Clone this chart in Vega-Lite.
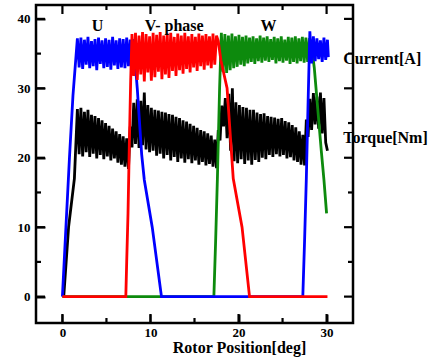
{
  "$schema": "https://vega.github.io/schema/vega-lite/v6.json",
  "width": 317,
  "height": 318,
  "autosize": {"type": "none"},
  "padding": {"left": 36, "top": 5, "right": 84, "bottom": 35},
  "background": "white",
  "config": {
    "view": {"stroke": "black", "strokeWidth": 2.5},
    "font": "Liberation Serif",
    "axis": {
      "domain": false,
      "grid": false,
      "tickColor": "black",
      "tickWidth": 2,
      "labelFont": "Liberation Serif",
      "labelFontWeight": "bold",
      "labelFontSize": 13,
      "labelColor": "black",
      "titleFont": "Liberation Serif",
      "titleFontWeight": "bold",
      "titleFontSize": 16,
      "titleColor": "black"
    }
  },
  "datasets": {
    "d": [
      {"s":"k","x":0.15,"y":0},{"s":"k","x":0.7,"y":10},{"s":"k","x":1.36,"y":17},{"s":"k","x":1.7,"y":27.0},
      {"s":"k","x":1.9,"y":20.5},{"s":"k","x":2.1,"y":27.2},{"s":"k","x":2.3,"y":20.2},{"s":"k","x":2.5,"y":26.6},
      {"s":"k","x":2.7,"y":20.8},{"s":"k","x":2.9,"y":26.9},{"s":"k","x":3.1,"y":20.1},{"s":"k","x":3.3,"y":26.2},
      {"s":"k","x":3.5,"y":20.6},{"s":"k","x":3.7,"y":26.0},{"s":"k","x":3.9,"y":19.9},{"s":"k","x":4.1,"y":25.7},
      {"s":"k","x":4.3,"y":20.4},{"s":"k","x":4.5,"y":25.4},{"s":"k","x":4.7,"y":19.8},{"s":"k","x":4.9,"y":25.0},
      {"s":"k","x":5.1,"y":20.2},{"s":"k","x":5.3,"y":24.6},{"s":"k","x":5.5,"y":19.6},{"s":"k","x":5.7,"y":24.2},
      {"s":"k","x":5.9,"y":19.9},{"s":"k","x":6.1,"y":23.8},{"s":"k","x":6.3,"y":19.3},{"s":"k","x":6.5,"y":23.4},
      {"s":"k","x":6.7,"y":19.0},{"s":"k","x":6.9,"y":23.1},{"s":"k","x":7.1,"y":18.7},{"s":"k","x":7.3,"y":22.8},
      {"s":"k","x":7.5,"y":18.4},{"s":"k","x":7.7,"y":24.5},{"s":"k","x":7.9,"y":21.5},{"s":"k","x":8.1,"y":27.9},
      {"s":"k","x":8.3,"y":22.0},{"s":"k","x":8.5,"y":28.4},{"s":"k","x":8.7,"y":21.4},{"s":"k","x":8.9,"y":28.2},
      {"s":"k","x":9.1,"y":21.8},{"s":"k","x":9.3,"y":29.4},{"s":"k","x":9.5,"y":21.2},{"s":"k","x":9.7,"y":27.6},
      {"s":"k","x":9.9,"y":20.8},{"s":"k","x":10.1,"y":27.2},{"s":"k","x":10.3,"y":21.0},{"s":"k","x":10.5,"y":26.9},
      {"s":"k","x":10.7,"y":20.3},{"s":"k","x":10.9,"y":26.8},{"s":"k","x":11.1,"y":20.6},{"s":"k","x":11.3,"y":26.6},
      {"s":"k","x":11.5,"y":19.9},{"s":"k","x":11.7,"y":26.5},{"s":"k","x":11.9,"y":20.4},{"s":"k","x":12.1,"y":26.3},
      {"s":"k","x":12.3,"y":19.6},{"s":"k","x":12.5,"y":26.2},{"s":"k","x":12.7,"y":20.1},{"s":"k","x":12.9,"y":25.9},
      {"s":"k","x":13.1,"y":19.4},{"s":"k","x":13.3,"y":25.7},{"s":"k","x":13.5,"y":19.9},{"s":"k","x":13.7,"y":25.4},
      {"s":"k","x":13.9,"y":19.3},{"s":"k","x":14.1,"y":25.2},{"s":"k","x":14.3,"y":19.8},{"s":"k","x":14.5,"y":24.9},
      {"s":"k","x":14.7,"y":19.2},{"s":"k","x":14.9,"y":24.6},{"s":"k","x":15.1,"y":19.6},{"s":"k","x":15.3,"y":24.3},
      {"s":"k","x":15.5,"y":19.0},{"s":"k","x":15.7,"y":24.0},{"s":"k","x":15.9,"y":19.4},{"s":"k","x":16.1,"y":23.8},
      {"s":"k","x":16.3,"y":18.9},{"s":"k","x":16.5,"y":23.5},{"s":"k","x":16.7,"y":19.1},{"s":"k","x":16.9,"y":23.2},
      {"s":"k","x":17.1,"y":18.7},{"s":"k","x":17.3,"y":22.6},{"s":"k","x":17.5,"y":18.5},{"s":"k","x":17.7,"y":24.0},
      {"s":"k","x":17.9,"y":22.5},{"s":"k","x":18.1,"y":27.5},{"s":"k","x":18.3,"y":24.5},{"s":"k","x":18.5,"y":28.6},
      {"s":"k","x":18.7,"y":22.8},{"s":"k","x":18.9,"y":29.2},{"s":"k","x":19.1,"y":21.0},{"s":"k","x":19.3,"y":30.0},
      {"s":"k","x":19.5,"y":19.5},{"s":"k","x":19.7,"y":28.0},{"s":"k","x":19.9,"y":19.2},{"s":"k","x":20.1,"y":27.6},
      {"s":"k","x":20.3,"y":19.8},{"s":"k","x":20.5,"y":27.3},{"s":"k","x":20.7,"y":19.1},{"s":"k","x":20.9,"y":27.2},
      {"s":"k","x":21.1,"y":19.6},{"s":"k","x":21.3,"y":26.9},{"s":"k","x":21.5,"y":19.0},{"s":"k","x":21.7,"y":26.9},
      {"s":"k","x":21.9,"y":19.7},{"s":"k","x":22.1,"y":26.5},{"s":"k","x":22.3,"y":19.4},{"s":"k","x":22.5,"y":26.3},
      {"s":"k","x":22.7,"y":20.0},{"s":"k","x":22.9,"y":26.4},{"s":"k","x":23.1,"y":19.8},{"s":"k","x":23.3,"y":26.0},
      {"s":"k","x":23.5,"y":20.4},{"s":"k","x":23.7,"y":25.9},{"s":"k","x":23.9,"y":20.1},{"s":"k","x":24.1,"y":25.8},
      {"s":"k","x":24.3,"y":20.5},{"s":"k","x":24.5,"y":25.6},{"s":"k","x":24.7,"y":20.2},{"s":"k","x":24.9,"y":25.7},
      {"s":"k","x":25.1,"y":20.4},{"s":"k","x":25.3,"y":25.3},{"s":"k","x":25.5,"y":19.9},{"s":"k","x":25.7,"y":25.1},
      {"s":"k","x":25.9,"y":20.1},{"s":"k","x":26.1,"y":24.7},{"s":"k","x":26.3,"y":19.6},{"s":"k","x":26.5,"y":24.4},
      {"s":"k","x":26.7,"y":19.4},{"s":"k","x":26.9,"y":23.8},{"s":"k","x":27.1,"y":19.0},{"s":"k","x":27.3,"y":23.3},
      {"s":"k","x":27.5,"y":18.9},{"s":"k","x":27.7,"y":25.5},{"s":"k","x":27.9,"y":23.0},{"s":"k","x":28.1,"y":28.5},
      {"s":"k","x":28.3,"y":24.0},{"s":"k","x":28.5,"y":29.3},{"s":"k","x":28.7,"y":24.8},{"s":"k","x":28.9,"y":28.8},
      {"s":"k","x":29.1,"y":24.2},{"s":"k","x":29.3,"y":29.4},{"s":"k","x":29.5,"y":23.5},{"s":"k","x":29.7,"y":28.6},
      {"s":"k","x":29.9,"y":22.2},{"s":"k","x":30.1,"y":21.0},

      {"s":"g","x":0,"y":0},{"s":"g","x":17.2,"y":0},{"s":"g","x":17.4,"y":8},{"s":"g","x":17.6,"y":17},
      {"s":"g","x":17.85,"y":30},{"s":"g","x":18.05,"y":38.0},
      {"s":"g","x":18.25,"y":32.4},{"s":"g","x":18.45,"y":37.8},{"s":"g","x":18.65,"y":32.2},{"s":"g","x":18.85,"y":37.6},
      {"s":"g","x":19.05,"y":32.6},{"s":"g","x":19.25,"y":37.9},{"s":"g","x":19.45,"y":32.9},{"s":"g","x":19.65,"y":37.5},
      {"s":"g","x":19.85,"y":33.1},{"s":"g","x":20.05,"y":37.7},{"s":"g","x":20.25,"y":33.4},{"s":"g","x":20.45,"y":37.4},
      {"s":"g","x":20.65,"y":33.2},{"s":"g","x":20.85,"y":37.6},{"s":"g","x":21.05,"y":33.6},{"s":"g","x":21.25,"y":37.3},
      {"s":"g","x":21.45,"y":33.8},{"s":"g","x":21.65,"y":37.5},{"s":"g","x":21.85,"y":33.5},{"s":"g","x":22.05,"y":37.2},
      {"s":"g","x":22.25,"y":33.9},{"s":"g","x":22.45,"y":37.6},{"s":"g","x":22.65,"y":33.7},{"s":"g","x":22.85,"y":37.3},
      {"s":"g","x":23.05,"y":34.0},{"s":"g","x":23.25,"y":37.5},{"s":"g","x":23.45,"y":33.8},{"s":"g","x":23.65,"y":37.1},
      {"s":"g","x":23.85,"y":34.1},{"s":"g","x":24.05,"y":37.4},{"s":"g","x":24.25,"y":33.6},{"s":"g","x":24.45,"y":37.2},
      {"s":"g","x":24.65,"y":33.9},{"s":"g","x":24.85,"y":37.5},{"s":"g","x":25.05,"y":33.7},{"s":"g","x":25.25,"y":37.0},
      {"s":"g","x":25.45,"y":34.0},{"s":"g","x":25.65,"y":37.4},{"s":"g","x":25.85,"y":33.5},{"s":"g","x":26.05,"y":37.3},
      {"s":"g","x":26.25,"y":33.8},{"s":"g","x":26.45,"y":37.5},{"s":"g","x":26.65,"y":33.6},{"s":"g","x":26.85,"y":37.2},
      {"s":"g","x":27.05,"y":33.9},{"s":"g","x":27.25,"y":37.4},{"s":"g","x":27.45,"y":33.7},{"s":"g","x":27.65,"y":37.3},
      {"s":"g","x":27.85,"y":33.8},{"s":"g","x":28.05,"y":37.2},{"s":"g","x":28.25,"y":36.5},
      {"s":"g","x":28.6,"y":33},{"s":"g","x":29.0,"y":27},{"s":"g","x":29.4,"y":21},{"s":"g","x":29.7,"y":16.8},{"s":"g","x":30.0,"y":12},

      {"s":"b","x":0,"y":0},{"s":"b","x":0.4,"y":10},{"s":"b","x":0.8,"y":20},{"s":"b","x":1.2,"y":29},{"s":"b","x":1.7,"y":37.2},
      {"s":"b","x":1.9,"y":33.0},{"s":"b","x":2.1,"y":37.3},{"s":"b","x":2.3,"y":32.8},{"s":"b","x":2.5,"y":37.0},
      {"s":"b","x":2.7,"y":33.4},{"s":"b","x":2.9,"y":37.4},{"s":"b","x":3.1,"y":32.9},{"s":"b","x":3.3,"y":36.8},
      {"s":"b","x":3.5,"y":33.2},{"s":"b","x":3.7,"y":37.1},{"s":"b","x":3.9,"y":32.6},{"s":"b","x":4.1,"y":37.3},
      {"s":"b","x":4.3,"y":33.5},{"s":"b","x":4.5,"y":36.9},{"s":"b","x":4.7,"y":32.9},{"s":"b","x":4.9,"y":37.2},
      {"s":"b","x":5.1,"y":33.1},{"s":"b","x":5.3,"y":37.0},{"s":"b","x":5.5,"y":32.7},{"s":"b","x":5.7,"y":37.4},
      {"s":"b","x":5.9,"y":33.3},{"s":"b","x":6.1,"y":36.9},{"s":"b","x":6.3,"y":32.8},{"s":"b","x":6.5,"y":37.2},
      {"s":"b","x":6.7,"y":33.0},{"s":"b","x":6.9,"y":37.1},{"s":"b","x":7.1,"y":32.9},{"s":"b","x":7.3,"y":37.3},
      {"s":"b","x":7.5,"y":33.2},{"s":"b","x":7.7,"y":37.0},{"s":"b","x":7.9,"y":33.4},{"s":"b","x":8.05,"y":37.1},
      {"s":"b","x":8.5,"y":30},{"s":"b","x":9.0,"y":20.5},{"s":"b","x":9.3,"y":16.8},{"s":"b","x":10.2,"y":10},{"s":"b","x":11.25,"y":0},
      {"s":"b","x":27.3,"y":0},{"s":"b","x":27.5,"y":8},{"s":"b","x":27.7,"y":17},{"s":"b","x":27.9,"y":28},{"s":"b","x":28.1,"y":38.2},
      {"s":"b","x":28.3,"y":33.6},{"s":"b","x":28.5,"y":37.5},{"s":"b","x":28.7,"y":33.9},{"s":"b","x":28.9,"y":37.2},
      {"s":"b","x":29.1,"y":34.2},{"s":"b","x":29.3,"y":36.9},{"s":"b","x":29.5,"y":33.8},{"s":"b","x":29.7,"y":37.3},
      {"s":"b","x":29.9,"y":34.1},{"s":"b","x":30.1,"y":37.0},{"s":"b","x":30.2,"y":34.5},

      {"s":"r","x":0,"y":0},{"s":"r","x":7.2,"y":0},{"s":"r","x":7.3,"y":5},{"s":"r","x":7.45,"y":12},{"s":"r","x":7.6,"y":22},
      {"s":"r","x":7.75,"y":31},{"s":"r","x":7.9,"y":37.8},
      {"s":"r","x":8.1,"y":31.8},{"s":"r","x":8.3,"y":38.0},{"s":"r","x":8.5,"y":31.2},{"s":"r","x":8.7,"y":37.6},
      {"s":"r","x":8.9,"y":32.0},{"s":"r","x":9.1,"y":38.1},{"s":"r","x":9.3,"y":31.0},{"s":"r","x":9.5,"y":37.8},
      {"s":"r","x":9.7,"y":32.3},{"s":"r","x":9.9,"y":37.5},{"s":"r","x":10.1,"y":31.1},{"s":"r","x":10.3,"y":38.0},
      {"s":"r","x":10.5,"y":31.6},{"s":"r","x":10.7,"y":37.7},{"s":"r","x":10.9,"y":32.4},{"s":"r","x":11.1,"y":38.1},
      {"s":"r","x":11.3,"y":31.3},{"s":"r","x":11.5,"y":37.6},{"s":"r","x":11.7,"y":32.0},{"s":"r","x":11.9,"y":37.9},
      {"s":"r","x":12.1,"y":31.5},{"s":"r","x":12.3,"y":38.0},{"s":"r","x":12.5,"y":32.5},{"s":"r","x":12.7,"y":37.4},
      {"s":"r","x":12.9,"y":31.8},{"s":"r","x":13.1,"y":37.9},{"s":"r","x":13.3,"y":32.6},{"s":"r","x":13.5,"y":37.6},
      {"s":"r","x":13.7,"y":32.1},{"s":"r","x":13.9,"y":38.0},{"s":"r","x":14.1,"y":32.8},{"s":"r","x":14.3,"y":37.5},
      {"s":"r","x":14.5,"y":32.3},{"s":"r","x":14.7,"y":37.8},{"s":"r","x":14.9,"y":33.0},{"s":"r","x":15.1,"y":37.4},
      {"s":"r","x":15.3,"y":32.5},{"s":"r","x":15.5,"y":37.9},{"s":"r","x":15.7,"y":33.2},{"s":"r","x":15.9,"y":37.6},
      {"s":"r","x":16.1,"y":32.7},{"s":"r","x":16.3,"y":37.8},{"s":"r","x":16.5,"y":33.3},{"s":"r","x":16.7,"y":37.5},
      {"s":"r","x":16.9,"y":32.9},{"s":"r","x":17.1,"y":37.9},{"s":"r","x":17.3,"y":33.4},{"s":"r","x":17.5,"y":37.6},
      {"s":"r","x":17.7,"y":36.8},{"s":"r","x":18.0,"y":34},{"s":"r","x":18.7,"y":30},{"s":"r","x":19.4,"y":17},
      {"s":"r","x":20.4,"y":10},{"s":"r","x":21.25,"y":0},{"s":"r","x":30.1,"y":0}
    ],
    "lab": [
      {"x":4.0,"y":39.0,"t":"U","a":"c"},
      {"x":12.7,"y":39.0,"t":"V- phase","a":"c"},
      {"x":23.4,"y":39.0,"t":"W","a":"c"},
      {"x":31.9,"y":34.2,"t":"Current[A]","a":"l"},
      {"x":31.9,"y":22.9,"t":"Torque[Nm]","a":"l"}
    ],
    "ty": [
      {"v":0,"m":1},{"v":5,"m":0},{"v":10,"m":1},{"v":15,"m":0},{"v":20,"m":1},
      {"v":25,"m":0},{"v":30,"m":1},{"v":35,"m":0},{"v":40,"m":1}
    ],
    "tx": [
      {"v":0,"m":1},{"v":5,"m":0},{"v":10,"m":1},{"v":15,"m":0},{"v":20,"m":1},{"v":25,"m":0},{"v":30,"m":1}
    ]
  },
  "layer": [
    {
      "data": {"name": "d"},
      "transform": [{"filter": "datum.s === 'k'"}],
      "mark": {"type": "line", "color": "black", "strokeWidth": 2.8},
      "encoding": {
        "x": {"field": "x", "type": "quantitative", "scale": {"domain": [-3, 33], "nice": false, "zero": false},
              "axis": {"orient": "bottom", "values": [0,10,20,30], "offset": -9, "tickSize": 9,
                       "labelPadding": 3, "title": "Rotor Position[deg]",
                       "titleX": 203, "titleY": 33, "titleBaseline": "middle", "titleAlign": "center"}},
        "y": {"field": "y", "type": "quantitative", "scale": {"domain": [-3.8, 42], "nice": false, "zero": false},
              "axis": {"orient": "left", "values": [0,10,20,30,40], "offset": -9, "tickSize": 9,
                       "labelPadding": 6, "title": null}}
      }
    },
    {
      "data": {"name": "d"},
      "transform": [{"filter": "datum.s === 'g'"}],
      "mark": {"type": "line", "color": "#0d8a0d", "strokeWidth": 2.8},
      "encoding": {
        "x": {"field": "x", "type": "quantitative", "axis": null},
        "y": {"field": "y", "type": "quantitative", "axis": null}
      }
    },
    {
      "data": {"name": "d"},
      "transform": [{"filter": "datum.s === 'b'"}],
      "mark": {"type": "line", "color": "#0000ff", "strokeWidth": 2.8},
      "encoding": {
        "x": {"field": "x", "type": "quantitative", "axis": null},
        "y": {"field": "y", "type": "quantitative", "axis": null}
      }
    },
    {
      "data": {"name": "d"},
      "transform": [{"filter": "datum.s === 'r'"}],
      "mark": {"type": "line", "color": "#ff0000", "strokeWidth": 2.8},
      "encoding": {
        "x": {"field": "x", "type": "quantitative", "axis": null},
        "y": {"field": "y", "type": "quantitative", "axis": null}
      }
    },
    {
      "data": {"name": "ty"},
      "transform": [{"filter": "datum.m === 1"}],
      "mark": {"type": "rule", "color": "black", "strokeWidth": 2.2},
      "encoding": {
        "y": {"field": "v", "type": "quantitative", "axis": null},
        "x": {"datum": -3, "type": "quantitative", "axis": null},
        "x2": {"datum": -1.98}
      }
    },
    {
      "data": {"name": "ty"},
      "transform": [{"filter": "datum.m === 0"}],
      "mark": {"type": "rule", "color": "black", "strokeWidth": 2.2},
      "encoding": {
        "y": {"field": "v", "type": "quantitative", "axis": null},
        "x": {"datum": -3, "type": "quantitative", "axis": null},
        "x2": {"datum": -2.43}
      }
    },
    {
      "data": {"name": "ty"},
      "transform": [{"filter": "datum.m === 1"}],
      "mark": {"type": "rule", "color": "black", "strokeWidth": 2.2},
      "encoding": {
        "y": {"field": "v", "type": "quantitative", "axis": null},
        "x": {"datum": 33, "type": "quantitative", "axis": null},
        "x2": {"datum": 31.98}
      }
    },
    {
      "data": {"name": "ty"},
      "transform": [{"filter": "datum.m === 0"}],
      "mark": {"type": "rule", "color": "black", "strokeWidth": 2.2},
      "encoding": {
        "y": {"field": "v", "type": "quantitative", "axis": null},
        "x": {"datum": 33, "type": "quantitative", "axis": null},
        "x2": {"datum": 32.43}
      }
    },
    {
      "data": {"name": "tx"},
      "transform": [{"filter": "datum.m === 1"}],
      "mark": {"type": "rule", "color": "black", "strokeWidth": 2.2},
      "encoding": {
        "x": {"field": "v", "type": "quantitative", "axis": null},
        "y": {"datum": -3.8, "type": "quantitative", "axis": null},
        "y2": {"datum": -2.5}
      }
    },
    {
      "data": {"name": "tx"},
      "transform": [{"filter": "datum.m === 0"}],
      "mark": {"type": "rule", "color": "black", "strokeWidth": 2.2},
      "encoding": {
        "x": {"field": "v", "type": "quantitative", "axis": null},
        "y": {"datum": -3.8, "type": "quantitative", "axis": null},
        "y2": {"datum": -3.08}
      }
    },
    {
      "data": {"name": "tx"},
      "transform": [{"filter": "datum.m === 1"}],
      "mark": {"type": "rule", "color": "black", "strokeWidth": 2.2},
      "encoding": {
        "x": {"field": "v", "type": "quantitative", "axis": null},
        "y": {"datum": 42, "type": "quantitative", "axis": null},
        "y2": {"datum": 40.7}
      }
    },
    {
      "data": {"name": "tx"},
      "transform": [{"filter": "datum.m === 0"}],
      "mark": {"type": "rule", "color": "black", "strokeWidth": 2.2},
      "encoding": {
        "x": {"field": "v", "type": "quantitative", "axis": null},
        "y": {"datum": 42, "type": "quantitative", "axis": null},
        "y2": {"datum": 41.28}
      }
    },
    {
      "data": {"name": "lab"},
      "transform": [{"filter": "datum.a === 'c'"}],
      "mark": {"type": "text", "font": "Liberation Serif", "fontWeight": "bold", "fontSize": 16, "align": "center", "baseline": "middle", "color": "black"},
      "encoding": {
        "x": {"field": "x", "type": "quantitative", "axis": null},
        "y": {"field": "y", "type": "quantitative", "axis": null},
        "text": {"field": "t"}
      }
    },
    {
      "data": {"name": "lab"},
      "transform": [{"filter": "datum.a === 'l'"}],
      "mark": {"type": "text", "font": "Liberation Serif", "fontWeight": "bold", "fontSize": 16, "align": "left", "baseline": "middle", "color": "black"},
      "encoding": {
        "x": {"field": "x", "type": "quantitative", "axis": null},
        "y": {"field": "y", "type": "quantitative", "axis": null},
        "text": {"field": "t"}
      }
    }
  ],
  "resolve": {"axis": {"x": "independent", "y": "independent"}}
}
